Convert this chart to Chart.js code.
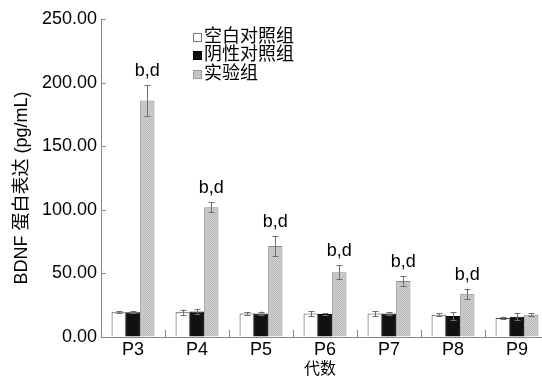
<!DOCTYPE html>
<html>
<head>
<meta charset="utf-8">
<script src="https://cdn.jsdelivr.net/npm/chart.js@4.4.0/dist/chart.umd.min.js"></script>
<style>
    html, body { margin: 0; padding: 0; overflow: hidden; background: #fff; }
    #chart { display: block; }
</style>
</head>
<body>
<canvas id="chart" width="550" height="381"></canvas>
<script>
// -------------------------------
// DONNEES
// -------------------------------
const categories = ['P3', 'P4', 'P5', 'P6', 'P7', 'P8', 'P9'];
const seriesNames = ['空白对照组', '阴性对照组', '实验组'];

const blankValues = [19.5, 19.5, 18.5, 18.5, 18.5, 17.5, 15];
const blankErrors = [1, 2, 1, 2, 2, 1, 1];

const negativeValues = [19.5, 20, 18.5, 18, 18.5, 16.5, 16];
const negativeErrors = [1, 2, 1.5, 0.5, 1, 3, 3];

const experimentValues = [186, 102, 71.5, 51, 44, 34, 17.5];
const experimentErrors = [12, 4, 8, 5.5, 4, 4, 1];

const significance = ['b,d', 'b,d', 'b,d', 'b,d', 'b,d', 'b,d', ''];

const yTicks = [0, 50, 100, 150, 200, 250];

const latinFont = '"Liberation Sans", Arial, sans-serif';
const cjkFont = '"Liberation Sans", "Noto Sans CJK SC", sans-serif';

// -------------------------------
// MOTIF GRIS POINTILLE
// -------------------------------
function makePattern() {
    const c = document.createElement('canvas');
    c.width = 2;
    c.height = 2;
    const g = c.getContext('2d');
    g.fillStyle = '#d0d0d0';
    g.fillRect(0, 0, 2, 2);
    g.fillStyle = '#bababa';
    g.fillRect(0, 0, 1, 1);
    g.fillRect(1, 1, 1, 1);
    return document.getElementById('chart').getContext('2d').createPattern(c, 'repeat');
}
const grayPattern = makePattern();

const errorSets = [blankErrors, negativeErrors, experimentErrors];

// -------------------------------
// PLUGINS
// -------------------------------
const extrasPlugin = {
    id: 'extras',
    afterDatasetsDraw(chart) {
        const ctx = chart.ctx;
        const y = chart.scales.y;
        ctx.save();
        ctx.strokeStyle = '#6e6e6e';
        ctx.lineWidth = 1;
        chart.data.datasets.forEach((ds, di) => {
            const meta = chart.getDatasetMeta(di);
            meta.data.forEach((bar, i) => {
                const v = ds.data[i];
                const e = errorSets[di][i];
                const x = Math.round(bar.x) + 0.5;
                const top = y.getPixelForValue(v + e);
                const bot = y.getPixelForValue(v - e);
                ctx.beginPath();
                ctx.moveTo(x, top);
                ctx.lineTo(x, bot);
                ctx.moveTo(x - 3, Math.round(top) + 0.5);
                ctx.lineTo(x + 3, Math.round(top) + 0.5);
                ctx.moveTo(x - 3, Math.round(bot) + 0.5);
                ctx.lineTo(x + 3, Math.round(bot) + 0.5);
                ctx.stroke();
            });
        });

        // lettres de significativite
        const meta = chart.getDatasetMeta(2);
        ctx.fillStyle = '#000';
        ctx.font = '18px ' + latinFont;
        ctx.textAlign = 'center';
        ctx.textBaseline = 'middle';
        meta.data.forEach((bar, i) => {
            if (!significance[i]) return;
            const top = y.getPixelForValue(experimentValues[i] + experimentErrors[i]);
            ctx.fillText(significance[i], bar.x, top - 14);
        });
        ctx.restore();
    },
    afterDraw(chart) {
        const ctx = chart.ctx;
        const x = chart.scales.x;
        const y = chart.scales.y;
        const area = chart.chartArea;
        ctx.save();
        ctx.strokeStyle = '#888';
        ctx.lineWidth = 1;

        // petits traits vers l'interieur
        ctx.beginPath();
        yTicks.forEach(t => {
            const py = Math.round(y.getPixelForValue(t)) + 0.5;
            ctx.moveTo(area.left, py);
            ctx.lineTo(area.left + 5, py);
        });
        for (let i = 1; i < categories.length; i++) {
            const px = Math.round((x.getPixelForValue(i - 1) + x.getPixelForValue(i)) / 2) + 0.5;
            ctx.moveTo(px, area.bottom);
            ctx.lineTo(px, area.bottom - 7);
        }
        ctx.stroke();

        // titres des axes
        ctx.fillStyle = '#000';
        ctx.textAlign = 'center';
        ctx.textBaseline = 'middle';
        ctx.font = '16px ' + cjkFont;
        ctx.fillText('代数', 320, 370);
        ctx.save();
        ctx.translate(22, 188);
        ctx.rotate(-Math.PI / 2);
        ctx.font = '18px ' + cjkFont;
        ctx.fillText('BDNF 蛋白表达 (pg/mL)', 0, 0);
        ctx.restore();

        // legende
        const fills = ['#fff', '#111', grayPattern];
        const borders = ['#777', '#000', '#999'];
        const rows = [37, 55, 74];
        ctx.font = '18px ' + cjkFont;
        ctx.textAlign = 'left';
        seriesNames.forEach((name, i) => {
            ctx.fillStyle = fills[i];
            ctx.fillRect(193, rows[i] - 4, 8, 8);
            ctx.strokeStyle = borders[i];
            ctx.strokeRect(193.5, rows[i] - 3.5, 8, 8);
            ctx.fillStyle = '#000';
            ctx.fillText(name, 204, rows[i]);
        });
        ctx.restore();
    }
};

// -------------------------------
// GRAPHIQUE
// -------------------------------
const ctx = document.getElementById('chart').getContext('2d');

new Chart(ctx, {
    type: 'bar',
    data: {
        labels: categories,
        datasets: [
            {
                label: seriesNames[0],
                data: blankValues,
                backgroundColor: '#fff',
                borderColor: '#444',
                borderWidth: 1
            },
            {
                label: seriesNames[1],
                data: negativeValues,
                backgroundColor: '#111',
                borderColor: '#000',
                borderWidth: 1
            },
            {
                label: seriesNames[2],
                data: experimentValues,
                backgroundColor: grayPattern,
                borderColor: '#8a8a8a',
                borderWidth: 1
            }
        ]
    },
    options: {
        responsive: false,
        animation: false,
        layout: { padding: { top: 19, right: 1, left: 0, bottom: 0 } },
        datasets: {
            bar: { categoryPercentage: 0.67, barPercentage: 1.0 }
        },
        plugins: {
            legend: { display: false },
            tooltip: { enabled: false }
        },
        scales: {
            x: {
                grid: { display: true, drawOnChartArea: false, drawTicks: false },
                border: { display: true, color: '#888' },
                ticks: { color: '#000', padding: 2, font: { size: 18, family: latinFont } },
                afterFit: s => { s.height = 44; }
            },
            y: {
                min: 0,
                max: 250,
                afterBuildTicks: s => { s.ticks = yTicks.map(v => ({ value: v })); },
                grid: { display: true, drawOnChartArea: false, drawTicks: false },
                border: { display: true, color: '#888' },
                ticks: {
                    color: '#000',
                    padding: 4,
                    font: { size: 18, family: latinFont },
                    callback: v => v.toFixed(2)
                },
                afterFit: s => { s.width = 101; }
            }
        }
    },
    plugins: [extrasPlugin]
});
</script>
</body>
</html>
